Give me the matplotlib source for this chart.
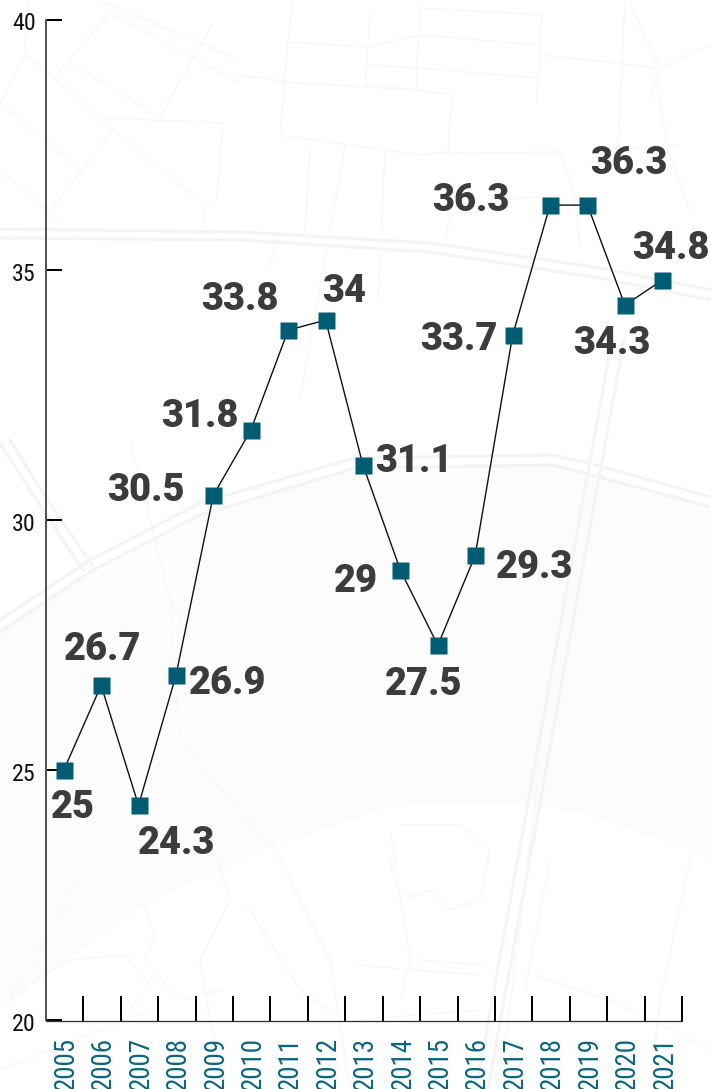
import matplotlib
matplotlib.use("Agg")
from matplotlib import pyplot as plt
from matplotlib.patches import Polygon
from matplotlib.transforms import ScaledTranslation

W, H = 711, 1089
PX = 72 / 100  # one pixel in points at dpi 100

years = ["2005", "2006", "2007", "2008", "2009", "2010", "2011", "2012", "2013",
         "2014", "2015", "2016", "2017", "2018", "2019", "2020", "2021"]
values = [25, 26.7, 24.3, 26.9, 30.5, 31.8, 33.8, 34, 31.1,
          29, 27.5, 29.3, 33.7, 36.3, 36.3, 34.3, 34.8]
y_ticks = [20, 25, 30, 35, 40]

# where each value label sits relative to its marker, in pixels
label_dx = [8, 1, 37, 51, -68, -52, -49, 18, 50, -46, -15, 58, -55, -80, 40, -14, 8]
label_dy = [-37, 36, -38, -8, 5, 14, 31, 29, 4, -11, -39, -12, -4, 5, 42, -38, 32]

# faint street map behind the chart
river = [(0, 632), (90, 575), (200, 517), (355, 468), (552, 465), (711, 505),
         (711, 858), (588, 815), (522, 803), (408, 802), (273, 845), (143, 905), (0, 1011)]
main_roads = [
    [(0, 229), (240, 232), (430, 243), (600, 268), (711, 290)],
    [(0, 238), (240, 240), (430, 252), (600, 278), (711, 300)],
    [(0, 620), (90, 560), (200, 503), (355, 458), (552, 455), (588, 463), (711, 497)],
    [(0, 632), (90, 572), (200, 515), (355, 468), (552, 465), (588, 474), (711, 507)],
    [(0, 443), (30, 490), (83, 570)],
    [(10, 440), (40, 488), (92, 565)],
    [(612, 340), (476, 1089)],
    [(624, 340), (488, 1089)],
]
minor_roads = [
    [(27, 55), (113, 130), (203, 203), (205, 227)],
    [(113, 130), (53, 207)],
    [(110, 13), (53, 78)],
    [(70, 63), (160, 117), (213, 23)],
    [(110, 13), (240, 83)],
    [(103, 118), (223, 123), (217, 200), (203, 207)],
    [(0, 103), (80, 170)],
    [(0, 170), (67, 227)],
    [(27, 0), (25, 55), (0, 105)],
    [(100, 0), (240, 60)],
    [(293, 0), (288, 42), (280, 135), (420, 155), (445, 152)],
    [(288, 42), (368, 47), (420, 35), (538, 45)],
    [(370, 15), (365, 85), (416, 90), (420, 8)],
    [(368, 65), (420, 68), (538, 78), (537, 100)],
    [(280, 82), (416, 90), (452, 95), (448, 150)],
    [(240, 75), (288, 82)],
    [(420, 8), (542, 15), (537, 100)],
    [(540, 55), (660, 68), (628, 0)],
    [(660, 68), (650, 100)],
    [(625, 0), (622, 62), (618, 150), (680, 145)],
    [(655, 68), (668, 150), (690, 210)],
    [(660, 68), (711, 45)],
    [(440, 153), (560, 152), (575, 195), (580, 250)],
    [(345, 145), (300, 400)],
    [(385, 150), (378, 300)],
    [(278, 237), (270, 265)],
    [(310, 145), (305, 235)],
    [(450, 215), (445, 240)],
    [(500, 200), (560, 195)],
    [(170, 600), (180, 745), (273, 845), (330, 960), (350, 1089)],
    [(100, 650), (140, 620)],
    [(130, 440), (170, 600), (190, 640)],
    [(143, 905), (155, 935), (145, 960), (180, 1000), (220, 990)],
    [(217, 862), (230, 900), (200, 960), (210, 1020), (225, 1089)],
    [(0, 1000), (70, 960), (125, 955), (150, 985), (120, 1020)],
    [(247, 905), (300, 990), (330, 1010)],
    [(400, 825), (460, 825), (490, 850), (480, 900), (450, 910), (430, 890), (400, 900), (390, 860)],
    [(390, 830), (410, 960), (400, 1000)],
    [(420, 960), (485, 965)],
    [(355, 965), (480, 975)],
    [(520, 970), (610, 1000), (711, 1050)],
    [(550, 860), (525, 990)],
    [(690, 860), (660, 1000), (650, 1089)],
    [(540, 760), (500, 1089)],
    [(355, 1020), (480, 1010)],
    [(0, 1070), (150, 1010)],
    [(80, 880), (10, 1000)],
]

fig = plt.figure(figsize=(W / 100, H / 100), dpi=100, facecolor="white")

bg = fig.add_axes([0, 0, 1, 1], zorder=0)
bg.set_xlim(0, W)
bg.set_ylim(H, 0)
bg.axis("off")
bg.add_patch(Polygon(river, closed=True, facecolor="#fcfcfc", edgecolor="none"))
for road in main_roads:
    bg.plot([p[0] for p in road], [p[1] for p in road], color="#f4f4f4", lw=3 * PX)
for road in minor_roads:
    bg.plot([p[0] for p in road], [p[1] for p in road], color="#f8f8f8", lw=1.5 * PX)

ax = fig.add_axes([46 / W, 1 - 1020.5 / H, 636 / W, 1000.5 / H], zorder=1)
ax.patch.set_visible(False)
ax.set_xlim(-0.5, len(years) - 0.5)
ax.set_ylim(20, 40)

x = list(range(len(years)))
nudge = ScaledTranslation(-1 / 100, 0, fig.dpi_scale_trans)
ax.plot(x, values, color="#111111", lw=1.4 * PX, marker="s", ms=17 * PX,
        mfc="#005c73", mec="none", clip_on=False, zorder=3,
        transform=ax.transData + nudge)

for i, v in enumerate(values):
    ax.annotate(str(v), (i, v), xytext=(label_dx[i] * PX, label_dy[i] * PX),
                textcoords="offset points", ha="center", va="center",
                family="Roboto", fontweight=900, fontsize=38 * PX,
                color="#3c3c3c", zorder=4)

for s in ["top", "right"]:
    ax.spines[s].set_visible(False)
ax.spines["left"].set_color("#555555")
ax.spines["left"].set_linewidth(2 * PX)
ax.spines["bottom"].set_color("#333333")
ax.spines["bottom"].set_linewidth(1.3 * PX)

ax.set_yticks(y_ticks)
ax.set_yticklabels([])
ax.tick_params(axis="y", direction="in", length=16 * PX, width=2 * PX, color="black")
ax.set_xticks([i - 0.5 for i in range(len(years) + 1)])
ax.set_xticklabels([])
ax.tick_params(axis="x", direction="in", length=25 * PX, width=2 * PX, color="black")

for t in y_ticks:
    ax.annotate(str(t), (0, t), xycoords=("axes fraction", "data"), xytext=(-10 * PX, -4 * PX),
                textcoords="offset points", ha="right", va="center",
                family="Roboto Condensed", fontsize=24 * PX, color="#111111")
for i, year in enumerate(years):
    ax.annotate(year, (i, 0), xycoords=("data", "axes fraction"), xytext=(1.5 * PX, -70 * PX),
                textcoords="offset points", ha="center", va="bottom", rotation=90,
                family="Roboto Condensed", fontsize=27 * PX, color="#0b667d", annotation_clip=False)

fig.savefig("out.png", dpi=100)
